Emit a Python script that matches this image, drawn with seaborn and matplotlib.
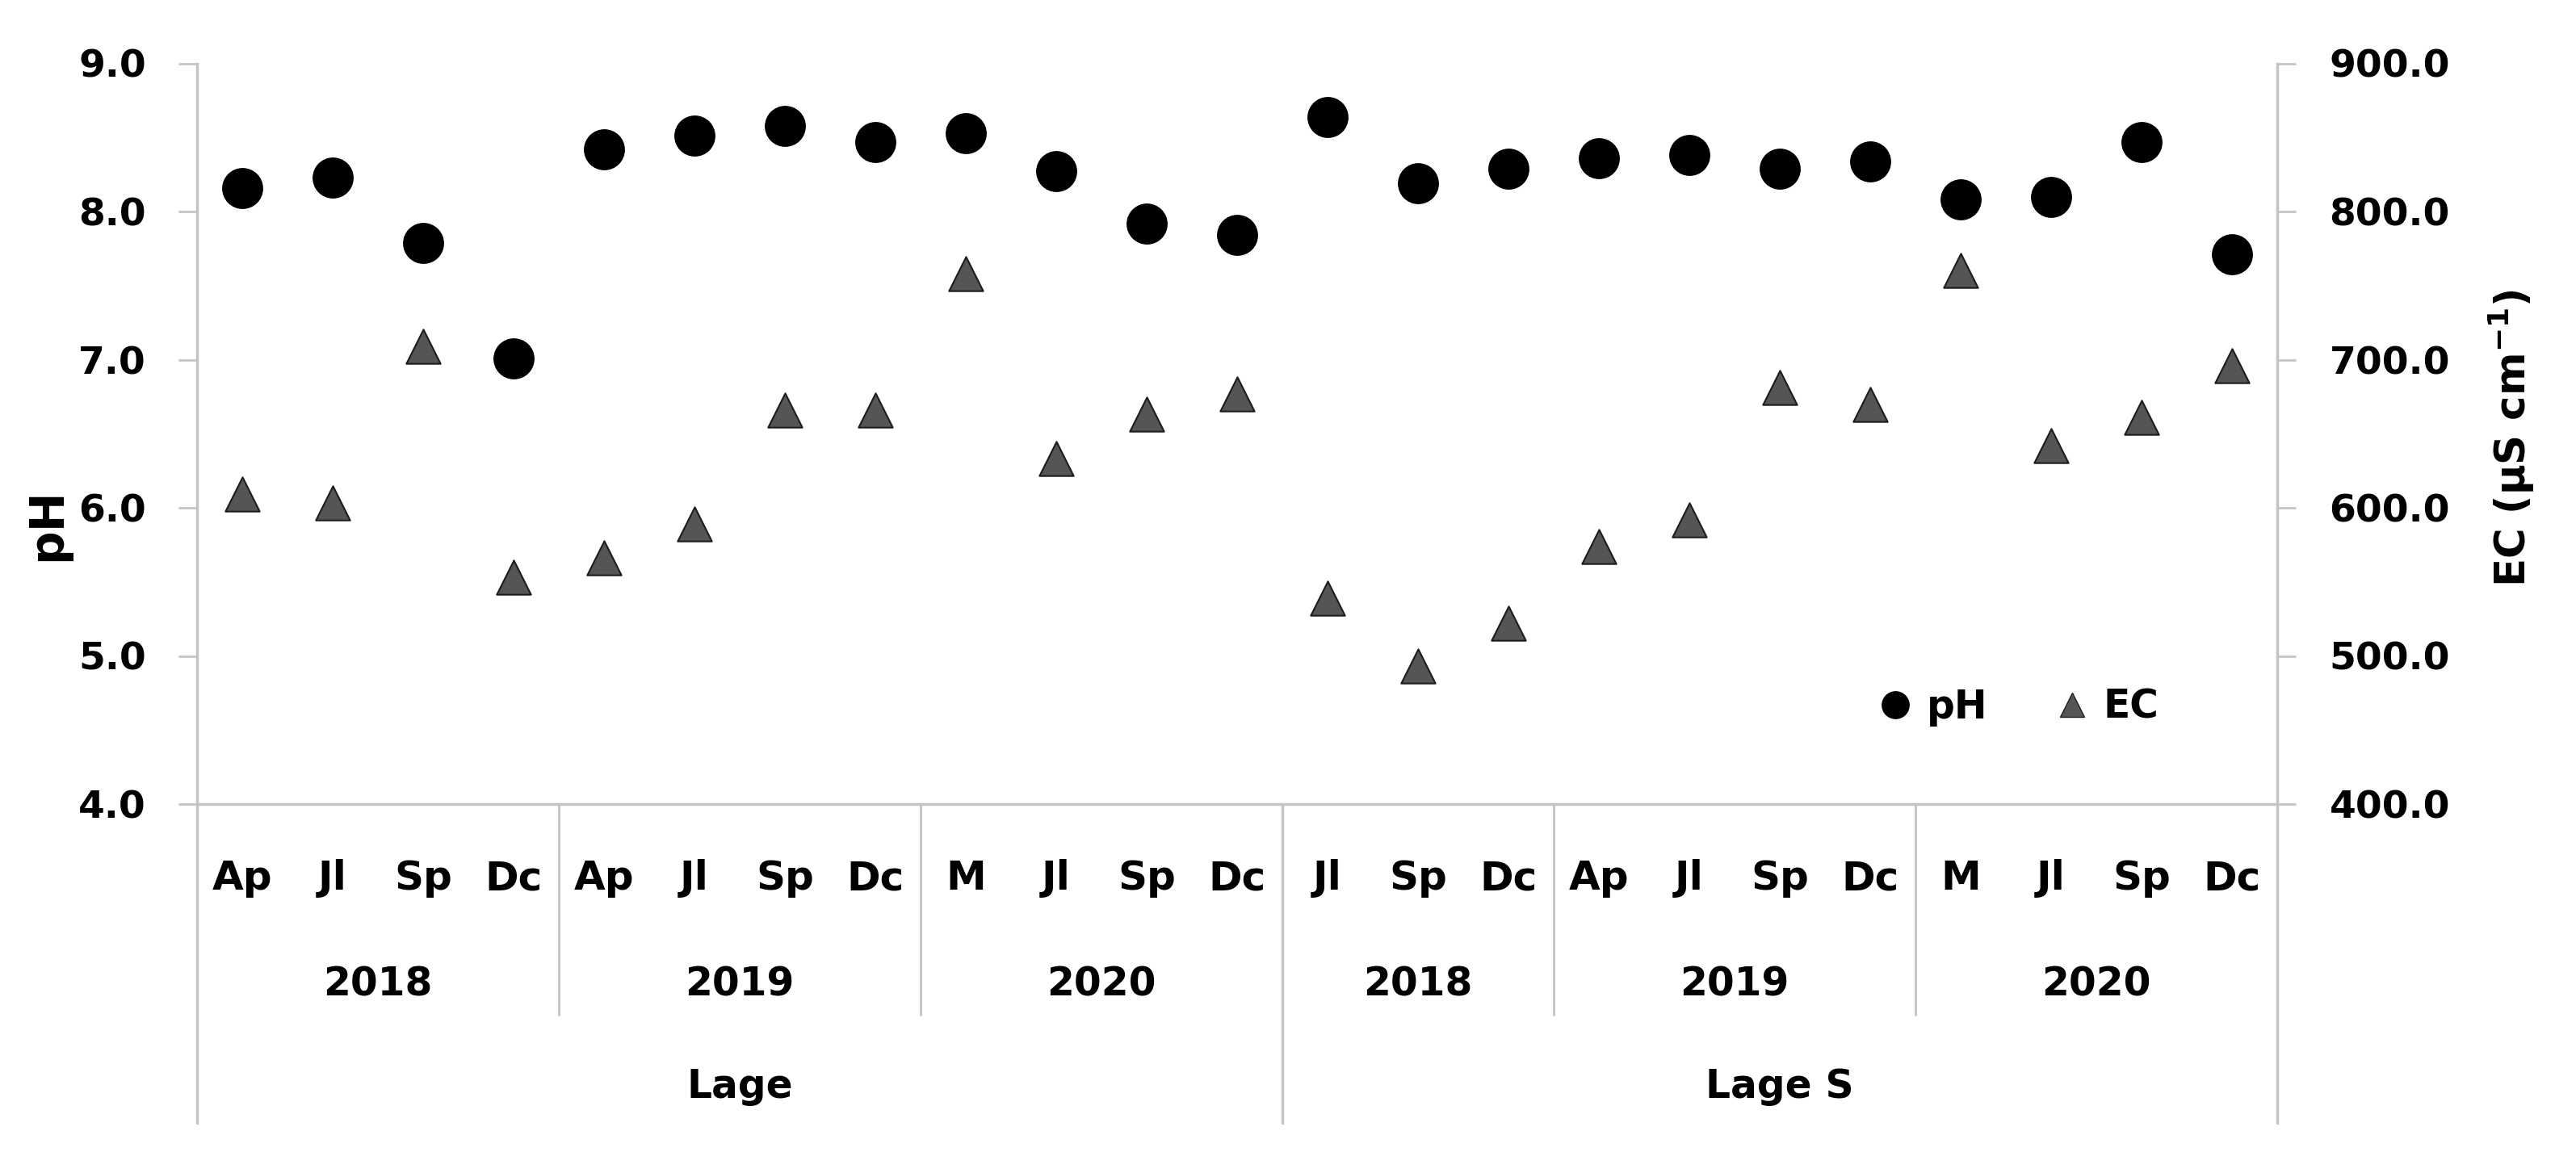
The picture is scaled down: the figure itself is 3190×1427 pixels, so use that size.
import numpy as np
import pandas as pd
import matplotlib
matplotlib.use("Agg")
import matplotlib.pyplot as plt
from matplotlib.lines import Line2D
import seaborn as sns

# ---------------- data ----------------
sites = ["Lage"] * 12 + ["Lage S"] * 11
years = (["2018"] * 4 + ["2019"] * 4 + ["2020"] * 4 +
         ["2018"] * 3 + ["2019"] * 4 + ["2020"] * 4)
months = ["Ap", "Jl", "Sp", "Dc", "Ap", "Jl", "Sp", "Dc", "M", "Jl", "Sp", "Dc",
          "Jl", "Sp", "Dc", "Ap", "Jl", "Sp", "Dc", "M", "Jl", "Sp", "Dc"]
ph_values = [8.16, 8.23, 7.79, 7.01, 8.42, 8.51, 8.58, 8.47, 8.53, 8.27, 7.92, 7.84,
             8.64, 8.19, 8.29, 8.36, 8.38, 8.29, 8.34, 8.08, 8.10, 8.47, 7.71]
ec_values = [609, 603, 709, 553, 566, 589, 666, 666, 758, 633, 663, 677,
             539, 493, 522, 574, 592, 681, 670, 760, 642, 661, 696]
ph_ticks = [4.0, 5.0, 6.0, 7.0, 8.0, 9.0]
ec_ticks = [400.0, 500.0, 600.0, 700.0, 800.0, 900.0]

df = pd.DataFrame({"site": sites, "year": years, "month": months,
                   "pH": ph_values, "EC": ec_values})
df["pos"] = np.arange(len(df))

# ---------------- style ----------------
sns.set_theme(style="white")
plt.rcParams["font.family"] = ["DejaVu Sans"]
plt.rcParams["font.weight"] = "bold"
plt.rcParams["mathtext.default"] = "bf"
plt.rcParams["text.color"] = "black"

GRID = "#c4c4c4"
FS_TICK = 34
FS_CAT = 36
FS_LAB = 40

fig = plt.figure(figsize=(31.9, 14.27), dpi=100)
ax = fig.add_axes([244 / 3190, 1 - 996 / 1427, (2820 - 244) / 3190, (996 - 78.5) / 1427])
ax2 = ax.twinx()

sns.scatterplot(data=df, x="pos", y="pH", ax=ax, marker="o", s=1340,
                color="black", edgecolor="black", linewidth=0, zorder=3, legend=False)
sns.scatterplot(data=df, x="pos", y="EC", ax=ax2, marker="^", s=930,
                color="#555555", edgecolor="#1c1c1c", linewidth=1.5, zorder=3, legend=False)

ax.set_xlim(-0.5, len(df) - 0.5)
ax.set_ylim(4.0, 9.0)
ax2.set_ylim(400.0, 900.0)
ax.set_yticks(ph_ticks)
ax.set_yticklabels([f"{v:.1f}" for v in ph_ticks], fontsize=FS_TICK, fontweight="bold")
ax2.set_yticks(ec_ticks)
ax2.set_yticklabels([f"{v:.1f}" for v in ec_ticks], fontsize=FS_TICK, fontweight="bold")
ax.set_xticks([])
ax.set_xlabel("")
ax.set_ylabel("")
ax2.set_ylabel("")

ax.tick_params(axis="y", length=16.5, width=2, color=GRID, labelcolor="black", pad=29, left=True)
ax2.tick_params(axis="y", length=16.5, width=2, color=GRID, labelcolor="black", pad=30, right=True)

for a in (ax, ax2):
    a.spines["top"].set_visible(False)
    for s in ("left", "right", "bottom"):
        a.spines[s].set_color(GRID)
        a.spines[s].set_linewidth(2.5)
    a.grid(False)
ax.spines["right"].set_visible(False)
ax2.spines["left"].set_visible(False)
ax2.spines["bottom"].set_visible(False)

# ---------------- hierarchical category axis ----------------
tr = ax.get_xaxis_transform()
for _, r in df.iterrows():
    ax.text(r["pos"], -0.1156, r["month"], transform=tr, ha="center", va="baseline",
            fontsize=FS_CAT, fontweight="bold", color="black")

grp_year = df.groupby(["site", "year"], sort=False)["pos"].agg(["min", "max"]).reset_index()
for _, g in grp_year.iterrows():
    ax.text((g["min"] + g["max"]) / 2, -0.2585, g["year"], transform=tr, ha="center",
            va="baseline", fontsize=FS_CAT - 1, fontweight="bold", color="black")
    if g["min"] > 0:
        ax.axvline(g["min"] - 0.5, ymin=-0.2846, ymax=0, color=GRID, lw=2, clip_on=False)

grp_site = df.groupby("site", sort=False)["pos"].agg(["min", "max"]).reset_index()
for _, g in grp_site.iterrows():
    ax.text((g["min"] + g["max"]) / 2, -0.397, g["site"], transform=tr, ha="center",
            va="baseline", fontsize=FS_CAT - 1, fontweight="bold", color="black")
    ax.axvline(g["min"] - 0.5, ymin=-0.43, ymax=0, color=GRID, lw=2.5, clip_on=False)
ax.axvline(len(df) - 0.5, ymin=-0.43, ymax=0, color=GRID, lw=2.5, clip_on=False)

# ---------------- axis titles ----------------
fig.text(59 / 3190, 1 - 650 / 1427, "pH", rotation=90, ha="center", va="center",
         fontsize=FS_LAB + 2, fontweight="bold", color="black")
fig.text(3110 / 3190, 1 - 543 / 1427, "EC (µS cm$^{-1}$)", rotation=90, ha="center",
         va="center", fontsize=FS_LAB - 3, fontweight="bold", color="black")

# ---------------- legend ----------------
handles = [Line2D([], [], marker="o", ls="", color="black", markersize=24),
           Line2D([], [], marker="^", ls="", markerfacecolor="#555555",
                  markeredgecolor="#1c1c1c", markersize=22)]
leg = ax2.legend(handles=handles, labels=["pH", "EC"], ncol=2, frameon=False,
                 loc="center left", bbox_to_anchor=(0.8098, 0.131), borderpad=0,
                 borderaxespad=0, handlelength=0.7, handletextpad=0.45, columnspacing=1.8,
                 prop={"size": 35, "weight": "bold"})
for t in leg.get_texts():
    t.set_color("black")

fig.savefig("out.png", dpi=100, facecolor="white")
